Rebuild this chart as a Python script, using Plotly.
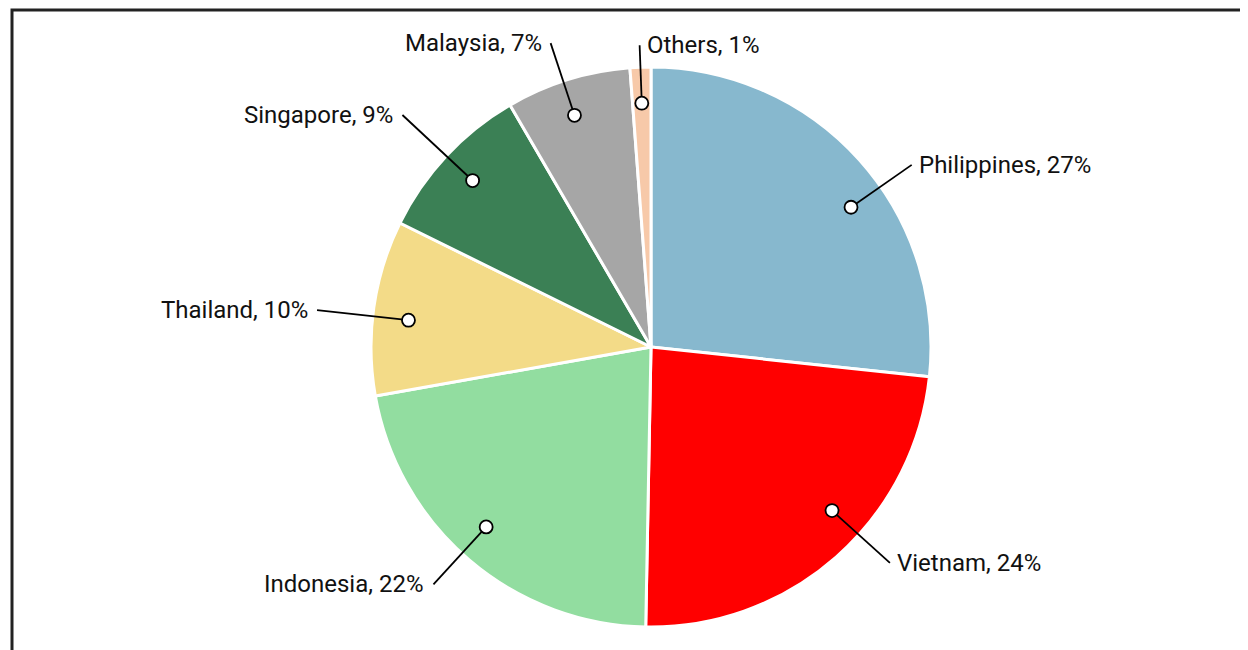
import math
import plotly.graph_objects as go

# slice data, clockwise from 12 o'clock
countries = ["Philippines", "Vietnam", "Indonesia", "Thailand", "Singapore", "Malaysia", "Others"]
shares = [26.7, 23.6, 21.9, 10.1, 9.3, 7.2, 1.2]
colors = ["#87b8ce", "#ff0000", "#92dda0", "#f3db88", "#3b8055", "#a6a6a6", "#f7c9a9"]

# page layout in screen pixels; the page body has an 8px margin
OFF = 8
W, H = 1248 - OFF, 650 - OFF
cx, cy, R = 651 - OFF, 347 - OFF, 280
dot_r = 244
label_r = [318, 322, 322, 336, 340, 320, 302]
angle_nudge = [7, -6.5, 2, -1.8, 0, -1, 0]

fig = go.Figure()

fig.add_trace(go.Pie(
    labels=countries,
    values=shares,
    sort=False,
    direction="clockwise",
    rotation=0,
    marker=dict(colors=colors, line=dict(color="white", width=3)),
    textinfo="none",
    hoverinfo="label+percent",
    showlegend=False,
    domain=dict(x=[(cx - R) / W, (cx + R) / W],
                y=[(H - cy - R) / H, (H - cy + R) / H]),
))

total = sum(shares)
cum = 0
annotations = []
shapes = []
for i, (name, v) in enumerate(zip(countries, shares)):
    mid = (cum + v / 2) / total * 360 + angle_nudge[i]
    cum += v
    a = math.radians(mid)
    x0, y0 = cx + dot_r * math.sin(a), cy - dot_r * math.cos(a)
    x1, y1 = cx + label_r[i] * math.sin(a), cy - label_r[i] * math.cos(a)
    shapes.append(dict(type="line", xref="x", yref="y", x0=x0, y0=y0, x1=x1, y1=y1,
                       line=dict(color="black", width=1.8), layer="above"))
    shapes.append(dict(type="circle", xref="x", yref="y",
                       x0=x0 - 6.5, x1=x0 + 6.5, y0=y0 - 6.5, y1=y0 + 6.5,
                       fillcolor="white", line=dict(color="black", width=1.8),
                       layer="above"))
    right = math.sin(a) > -0.05
    annotations.append(dict(
        x=x1 + (5 if right else -7), y=y1, xref="x", yref="y",
        text=f"{name}, {round(v)}%", showarrow=False,
        xanchor="left" if right else "right", yanchor="middle",
        font=dict(family="Roboto, Arial, sans-serif", size=24, color="#111"),
    ))

# frame (right and bottom edges fall outside the view)
shapes.append(dict(type="rect", xref="x", yref="y", x0=12 - OFF, y0=10 - OFF,
                   x1=W + 40, y1=H + 40, line=dict(color="#222", width=3),
                   layer="below"))

fig.update_layout(
    width=W, height=H,
    margin=dict(l=0, r=0, t=0, b=0),
    paper_bgcolor="white", plot_bgcolor="white",
    xaxis=dict(range=[0, W], visible=False, fixedrange=True),
    yaxis=dict(range=[H, 0], visible=False, fixedrange=True),
    annotations=annotations,
    shapes=shapes,
)

fig.write_html("out.html")
